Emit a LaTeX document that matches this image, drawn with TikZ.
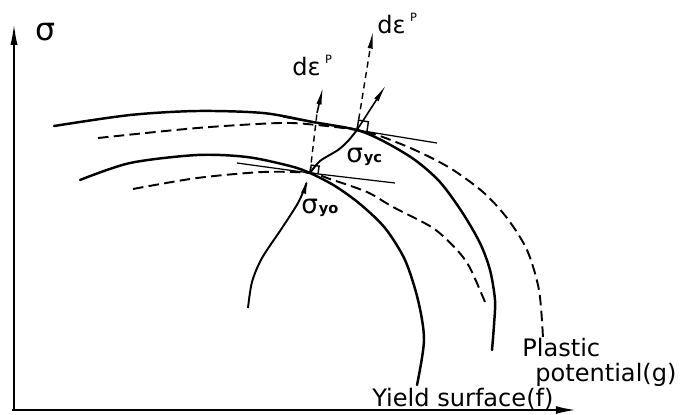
\documentclass[tikz,border=0pt]{standalone}
\usepackage{fontspec}
\setmainfont{DejaVu Sans}
\usetikzlibrary{arrows.meta}
\begin{document}
\begin{tikzpicture}[x=0.02cm,y=-0.02cm,
  curve/.style={line width=1.4pt, line cap=round, line join=round},
  gcurve/.style={line width=1.1pt, dash pattern=on 6pt off 3pt},
  tline/.style={line width=0.7pt},
  nline/.style={line width=0.8pt, dash pattern=on 3.5pt off 2.5pt},
  axis/.style={line width=1.4pt},
  lbl/.style={inner sep=0pt, anchor=base west, font=\fontsize{13.7}{16}\selectfont},
  sq/.style={line width=0.8pt},
]
\useasboundingbox (0,0) rectangle (687,414);

% axes
\coordinate (O) at (14,410);
\coordinate (Ytip) at (14,22);
\coordinate (Xtip) at (577,410);
\draw[axis, -{Latex[length=13pt,width=4pt]}] (O) -- (Ytip);
\draw[axis, -{Latex[length=12pt,width=4.5pt]}] (12,410) -- (Xtip);
\node[lbl, font=\fontsize{18}{20}\selectfont] (sig) at (35,40) {σ};

% key points
\coordinate (syo) at (310,173);
\coordinate (syc) at (357,130);

% yield surfaces (solid)
\draw[curve] plot[smooth] coordinates {(54,126) (130,115) (197,111) (263,113) (313,122) (357,130) (385,142) (415,160) (440,182) (462,212) (480,243) (490,270) (495,300) (494,325) (492,350)};
\draw[curve] plot[smooth] coordinates {(80,180) (130,163) (197,155) (247,157) (290,166) (310,173) (335,186) (360,204) (385,228) (405,260) (418,300) (424,340) (417,385)};

% plastic potentials (dashed)
\draw[gcurve] plot[smooth] coordinates {(98,138) (197,128) (280,123) (317,125) (357,130) (380,136) (415,150) (450,168) (483,192) (507,218) (527,250) (539,290) (543,338)};
\draw[gcurve] plot[smooth] coordinates {(133,189) (197,178) (263,172) (310,173) (330,179) (367,192) (393,207) (433,228) (457,250) (470,268) (485,302)};

% tangent lines
\draw[tline] (237,163) -- (syo) -- (395,183);
\draw[tline] (283,117) -- (syc) -- (437,143);

% loading path
\draw[line width=1.1pt, -{Latex[length=9pt,width=3pt]}] plot[smooth] coordinates {(248,308) (252,282) (262,258) (282,228) (298,203) (305,187) (308,178)};
\draw[line width=1.1pt] plot[smooth] coordinates {(syo) (320,161) (338,150) (348,141) (syc)};

% normals at sigma_yo
\coordinate (nyo) at (317,113);
\coordinate (nyotip) at (323,87);
\draw[nline] (syo) -- (nyo);
\draw[line width=0.9pt, -{Latex[length=10pt,width=3pt]}] (nyo) -- (nyotip);
\draw[sq] (syo) -- ++(1.2,-7.9) -- ++(7.95,1.0) -- ++(-1.2,7.9);

% normals at sigma_yc
\coordinate (ncg) at (373,31);
\coordinate (ncf) at (386,85);
\draw[nline, -{Latex[length=10pt,width=3pt]}] (syc) -- (ncg);
\draw[line width=0.9pt, -{Latex[length=10pt,width=3pt]}] (syc) -- (ncf);
\draw[sq] (syc) -- ++(1.5,-9.9) -- ++(9.9,1.7) -- ++(-1.5,9.9);

% labels
\node[lbl] (de1) at (292,75) {dε\hspace{2.5pt}\raisebox{6.5pt}{\fontsize{6.5}{7}\selectfont P}};
\node[lbl] (de2) at (377,33) {dε\hspace{2.5pt}\raisebox{6.5pt}{\fontsize{6.5}{7}\selectfont P}};
\node[lbl] (lyc) at (346,162) {\fontsize{15}{16}\selectfont σ\hspace{0.5pt}\fontsize{8.3}{9}\selectfont\bfseries yc};
\node[lbl] (lyo) at (301,213) {\fontsize{15}{16}\selectfont σ\hspace{0.5pt}\fontsize{8.3}{9}\selectfont\bfseries yo};
\node[lbl] (yf) at (372,406) {Yield surface(f)};
\node[lbl] (pl) at (522,356) {Plastic};
\node[lbl] (pg) at (535,381) {potential(g)};
\end{tikzpicture}
\end{document}
